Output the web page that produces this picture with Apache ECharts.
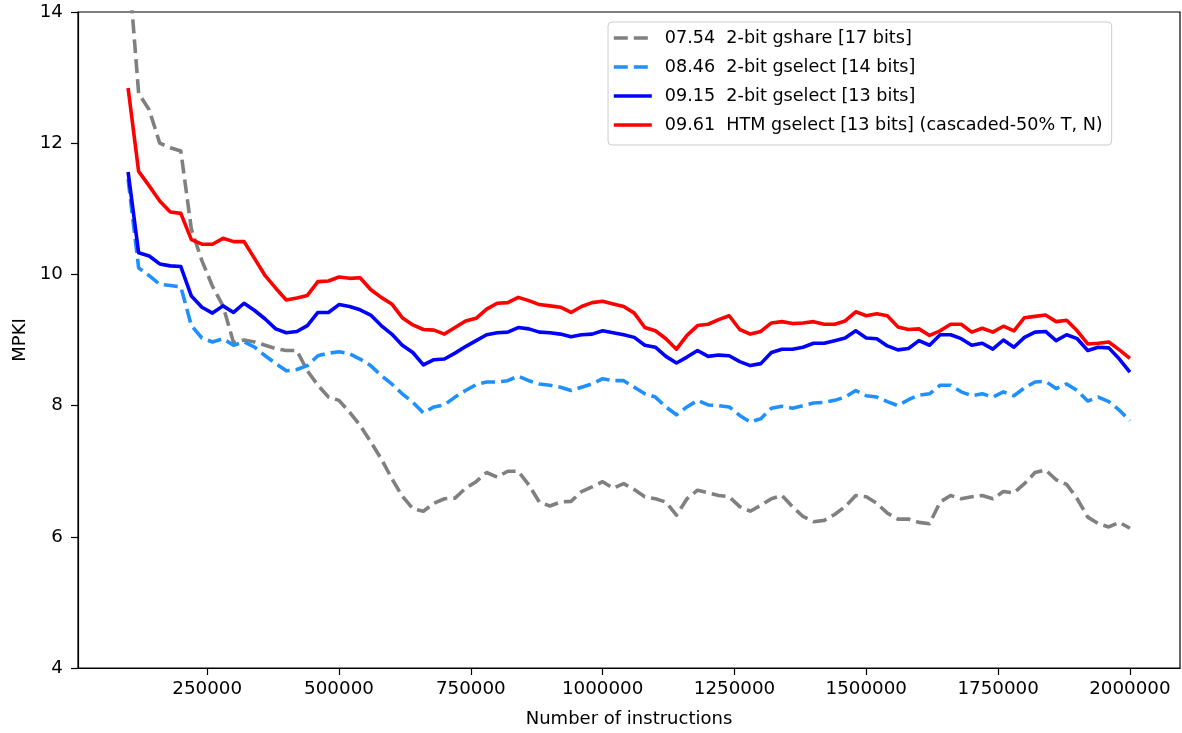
<!DOCTYPE html>
<html><head><meta charset="utf-8">
<script src="https://cdn.jsdelivr.net/npm/echarts@6/dist/echarts.min.js"></script>
<style>html,body{margin:0;padding:0;background:#fff}#c{width:1182px;height:733px}</style>
</head><body><div id="c"></div>
<script>
const xValues = [100000,120000,140000,160000,180000,200000,220000,240000,260000,280000,
300000,320000,340000,360000,380000,400000,420000,440000,460000,480000,
500000,520000,540000,560000,580000,600000,620000,640000,660000,680000,
700000,720000,740000,760000,780000,800000,820000,840000,860000,880000,
900000,920000,940000,960000,980000,1000000,1020000,1040000,1060000,1080000,
1100000,1120000,1140000,1160000,1180000,1200000,1220000,1240000,1260000,1280000,
1300000,1320000,1340000,1360000,1380000,1400000,1420000,1440000,1460000,1480000,
1500000,1520000,1540000,1560000,1580000,1600000,1620000,1640000,1660000,1680000,
1700000,1720000,1740000,1760000,1780000,1800000,1820000,1840000,1860000,1880000,
1900000,1920000,1940000,1960000,1980000,2000000];

const xTickValues = [250000,500000,750000,1000000,1250000,1500000,1750000,2000000];
const yTickValues = [4,6,8,10,12,14];

const seriesNames = [
  '07.54  2-bit gshare [17 bits]',
  '08.46  2-bit gselect [14 bits]',
  '09.15  2-bit gselect [13 bits]',
  '09.61  HTM gselect [13 bits] (cascaded-50% T, N)'
];

const gshare17 = [14.8,12.76,12.51,12.0,11.93,11.88,10.69,10.21,9.82,9.52,
8.96,9.0,8.97,8.92,8.87,8.84,8.84,8.53,8.31,8.13,
8.08,7.90,7.70,7.45,7.19,6.89,6.62,6.43,6.39,6.51,
6.58,6.59,6.74,6.84,6.98,6.91,7.00,7.00,6.79,6.53,
6.47,6.53,6.54,6.69,6.76,6.84,6.74,6.81,6.72,6.61,
6.58,6.53,6.33,6.58,6.71,6.67,6.63,6.61,6.46,6.39,
6.48,6.58,6.63,6.46,6.31,6.23,6.25,6.34,6.46,6.63,
6.61,6.51,6.36,6.27,6.27,6.22,6.20,6.53,6.63,6.58,
6.61,6.63,6.58,6.69,6.67,6.81,6.98,7.02,6.87,6.80,
6.58,6.30,6.20,6.15,6.22,6.13];

const gselect14 = [11.45,10.10,9.98,9.85,9.83,9.81,9.22,9.03,8.97,9.02,
8.92,8.97,8.89,8.76,8.64,8.53,8.55,8.61,8.76,8.80,
8.82,8.79,8.71,8.61,8.46,8.33,8.18,8.05,7.89,7.98,
8.01,8.13,8.23,8.32,8.36,8.36,8.38,8.45,8.38,8.33,
8.31,8.28,8.23,8.28,8.33,8.41,8.38,8.38,8.28,8.18,
8.13,7.98,7.86,7.98,8.08,8.01,8.00,7.98,7.85,7.75,
7.80,7.96,7.99,7.96,8.00,8.04,8.05,8.08,8.13,8.23,
8.15,8.13,8.06,8.00,8.09,8.16,8.18,8.31,8.31,8.21,
8.15,8.18,8.13,8.21,8.15,8.27,8.36,8.37,8.26,8.33,
8.23,8.07,8.13,8.06,7.93,7.77];

const gselect13 = [11.56,10.33,10.28,10.16,10.13,10.12,9.67,9.50,9.41,9.52,
9.42,9.56,9.45,9.32,9.17,9.11,9.13,9.22,9.42,9.42,
9.54,9.51,9.46,9.38,9.22,9.09,8.92,8.81,8.62,8.70,
8.71,8.80,8.90,8.99,9.08,9.11,9.12,9.19,9.17,9.12,
9.11,9.09,9.05,9.08,9.09,9.14,9.11,9.08,9.04,8.92,
8.89,8.75,8.65,8.74,8.84,8.75,8.77,8.76,8.67,8.61,
8.64,8.81,8.86,8.86,8.89,8.95,8.95,8.99,9.03,9.14,
9.03,9.02,8.91,8.85,8.87,8.99,8.92,9.08,9.08,9.02,
8.92,8.95,8.86,9.00,8.89,9.04,9.12,9.13,8.99,9.08,
9.02,8.84,8.89,8.88,8.71,8.51];

const htmGselect13 = [12.84,11.57,11.35,11.12,10.95,10.93,10.53,10.46,10.46,10.55,
10.50,10.50,10.24,9.98,9.79,9.61,9.64,9.68,9.89,9.90,
9.96,9.94,9.95,9.77,9.65,9.55,9.34,9.23,9.16,9.15,
9.09,9.19,9.29,9.33,9.47,9.56,9.57,9.65,9.60,9.54,
9.52,9.50,9.42,9.51,9.57,9.59,9.55,9.51,9.41,9.19,
9.14,9.02,8.86,9.07,9.22,9.24,9.31,9.37,9.16,9.09,
9.13,9.26,9.28,9.25,9.26,9.28,9.24,9.24,9.29,9.43,
9.37,9.40,9.37,9.20,9.16,9.17,9.07,9.14,9.24,9.24,
9.12,9.18,9.12,9.21,9.14,9.34,9.36,9.38,9.28,9.30,
9.14,8.94,8.95,8.97,8.85,8.72];

const FONT = 'DejaVu Sans';
function pairs(ys) { return xValues.map((x, i) => [x, ys[i]]); }

const chart = echarts.init(document.getElementById('c'), null, {renderer: 'canvas'});

function mkSeries(name, ys, color, dashed) {
  return {
    name: name, type: 'line', data: pairs(ys),
    symbol: 'none', showSymbol: false, clip: true,
    lineStyle: {color: color, width: 3.6, type: dashed ? [14, 6] : 'solid', cap: 'butt', join: 'round'},
    itemStyle: {color: color},
    emphasis: {disabled: true}
  };
}

const option = {
  animation: false,
  backgroundColor: '#ffffff',
  grid: {left: 78, right: 2, top: 12, bottom: 64, show: true, borderColor: '#000', borderWidth: 1.2, backgroundColor: 'transparent'},
  xAxis: {
    type: 'value', min: 5000, max: 2095000,
    name: 'Number of instructions', nameLocation: 'middle', nameGap: 42,
    nameTextStyle: {fontFamily: FONT, fontSize: 18, color: '#000'},
    axisLine: {show: true, lineStyle: {color: '#000', width: 1.2}},
    axisTick: {show: true, customValues: xTickValues, length: 7, lineStyle: {color: '#000', width: 1.2}},
    axisLabel: {customValues: xTickValues, margin: 12, fontFamily: FONT, fontSize: 18.3, color: '#000', formatter: v => String(v)},
    splitLine: {show: false}
  },
  yAxis: {
    type: 'value', min: yTickValues[0], max: yTickValues[yTickValues.length - 1], interval: 2,
    name: 'MPKI', nameLocation: 'middle', nameGap: 48,
    nameTextStyle: {fontFamily: FONT, fontSize: 18, color: '#000'},
    axisLine: {show: true, lineStyle: {color: '#000', width: 1.2}},
    axisTick: {show: true, length: 7, lineStyle: {color: '#000', width: 1.2}},
    axisLabel: {margin: 15, fontFamily: FONT, fontSize: 18.3, color: '#000'},
    splitLine: {show: false}
  },
  legend: {
    orient: 'vertical', left: 608, top: 22,
    padding: [6, 9, 10, 4], itemGap: 9, itemWidth: 38, itemHeight: 14,
    backgroundColor: 'rgba(255,255,255,0.8)', borderColor: '#cccccc', borderWidth: 1, borderRadius: 4,
    itemStyle: {color: 'transparent', borderWidth: 0, opacity: 0},
    lineStyle: {width: 3.6},
    textStyle: {fontFamily: FONT, fontSize: 17.6, color: '#000', lineHeight: 20, padding: [0, 0, 0, 8]},
    data: seriesNames
  },
  series: [
    mkSeries(seriesNames[0], gshare17, '#808080', true),
    mkSeries(seriesNames[1], gselect14, '#1e90ff', true),
    mkSeries(seriesNames[2], gselect13, '#0000ff', false),
    mkSeries(seriesNames[3], htmGselect13, '#ff0000', false)
  ]
};
chart.setOption(option);
</script>
</body></html>
